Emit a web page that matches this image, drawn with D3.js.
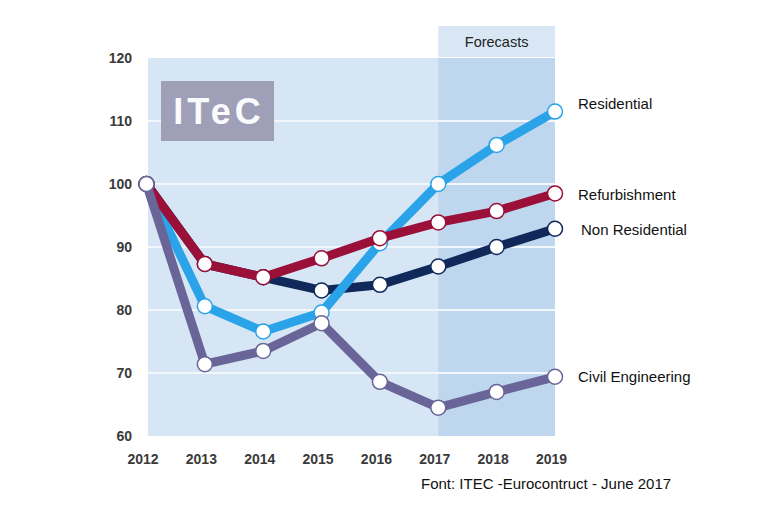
<!DOCTYPE html>
<html><head><meta charset="utf-8">
<script src="https://cdn.jsdelivr.net/npm/d3@7"></script>
<style>body{margin:0;background:#fff}svg{display:block}text{font-family:"Liberation Sans",Arial,sans-serif}</style>
</head><body><svg id="c" width="776" height="517"></svg>
<script>
const years = [2012, 2013, 2014, 2015, 2016, 2017, 2018, 2019];
const yTicks = [60, 70, 80, 90, 100, 110, 120];
const nonResidential = [100, 87.3, 85.2, 83.1, 84.0, 86.9, 90.0, 92.9];
const residential = [100, 80.6, 76.6, 79.6, 90.6, 100.0, 106.2, 111.5];
const refurbishment = [100, 87.3, 85.2, 88.2, 91.4, 93.9, 95.7, 98.5];
const civilEngineering = [100, 71.4, 73.5, 77.9, 68.6, 64.5, 67.0, 69.4];
const seriesNames = ["Non Residential", "Residential", "Refurbishment", "Civil Engineering"];
const seriesColors = ["#10295a", "#2aa3e8", "#9a1038", "#6a6598"];
const forecastStart = 2017;

const series = [nonResidential, residential, refurbishment, civilEngineering].map((v, i) => ({
  name: seriesNames[i], color: seriesColors[i], values: v
}));

const svg = d3.select("#c");
const x = d3.scaleLinear().domain([2012, 2019]).range([146.5, 555]);
const y = d3.scaleLinear().domain([60, 120]).range([436, 58]);
const plotLeft = 148, plotRight = 555;

svg.append("rect").attr("x", plotLeft).attr("y", y(120)).attr("width", plotRight - plotLeft)
  .attr("height", y(60) - y(120)).attr("fill", "#d7e6f5");
svg.append("rect").attr("x", x(forecastStart)).attr("y", y(120)).attr("width", x(2019) - x(forecastStart))
  .attr("height", y(60) - y(120)).attr("fill", "#bed7ee");
svg.append("rect").attr("x", x(forecastStart)).attr("y", 26).attr("width", x(2019) - x(forecastStart))
  .attr("height", y(120) - 26 - 1).attr("fill", "#d9e7f5");
svg.append("text").attr("x", (x(forecastStart) + x(2019)) / 2).attr("y", 47)
  .attr("text-anchor", "middle").attr("font-size", 14.5).attr("fill", "#222").text("Forecasts");

svg.append("g").selectAll("line").data(yTicks.filter(t => t > 60 && t < 120)).join("line")
  .attr("x1", plotLeft).attr("x2", plotRight).attr("y1", d => y(d)).attr("y2", d => y(d))
  .attr("stroke", "#f2f7fc").attr("stroke-width", 2);

svg.append("rect").attr("x", 161).attr("y", 81).attr("width", 113).attr("height", 60).attr("fill", "#9fa0b8");
svg.append("text").attr("x", 219).attr("y", 124).attr("text-anchor", "middle").attr("font-size", 36)
  .attr("font-weight", "bold").attr("fill", "#fbfbfd").attr("letter-spacing", 4).text("ITeC");

const yAxis = d3.axisLeft(y).tickValues(yTicks).tickSize(0).tickPadding(0);
svg.append("g").attr("transform", "translate(132,0)").call(yAxis)
  .call(g => g.select(".domain").remove())
  .selectAll("text").attr("font-size", 14).attr("font-weight", "bold").attr("fill", "#3a3a3a")
  .attr("font-family", "'Liberation Sans',Arial,sans-serif");
const xAxis = d3.axisBottom(x).tickValues(years).tickFormat(d3.format("d")).tickSize(0).tickPadding(0);
svg.append("g").attr("transform", "translate(-4,454)").call(xAxis)
  .call(g => g.select(".domain").remove())
  .selectAll("text").attr("font-size", 14).attr("font-weight", "bold").attr("fill", "#3a3a3a")
  .attr("font-family", "'Liberation Sans',Arial,sans-serif");

const line = d3.line().x((d, i) => x(years[i])).y(d => y(d));
const sg = svg.append("g").selectAll("g").data(series).join("g");
sg.append("path").attr("d", d => line(d.values)).attr("fill", "none")
  .attr("stroke", d => d.color).attr("stroke-width", 9).attr("stroke-linejoin", "round");
sg.each(function (s) {
  d3.select(this).selectAll("circle").data(s.values).join("circle")
    .attr("cx", (d, i) => x(years[i])).attr("cy", d => y(d)).attr("r", 7.5)
    .attr("fill", "#fff").attr("stroke", s.color).attr("stroke-width", 1.5);
});

const labelY = {"Residential": 104, "Refurbishment": 195, "Non Residential": 230, "Civil Engineering": 377};
const labelX = {"Residential": 578, "Refurbishment": 578, "Non Residential": 581, "Civil Engineering": 578};
svg.append("g").selectAll("text").data(series).join("text")
  .attr("x", d => labelX[d.name]).attr("y", d => labelY[d.name]).attr("dy", "0.35em")
  .attr("font-size", 15).attr("fill", "#111").text(d => d.name);

svg.append("text").attr("x", 421).attr("y", 489).attr("font-size", 15).attr("fill", "#111")
  .text("Font: ITEC -Eurocontruct - June 2017");
</script></body></html>
